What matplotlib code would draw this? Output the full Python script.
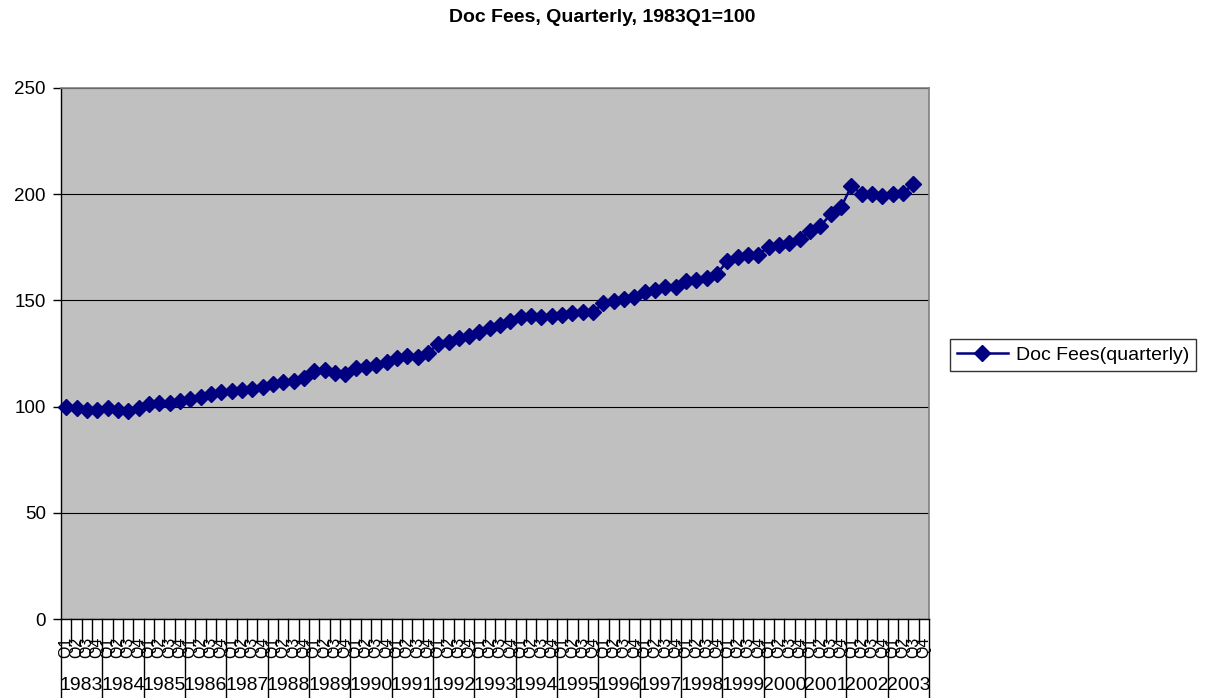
import matplotlib
matplotlib.use("Agg")
import matplotlib.pyplot as plt
from matplotlib.lines import Line2D

plt.rcParams['font.family'] = ['Liberation Sans', 'DejaVu Sans']

title = "Doc Fees, Quarterly, 1983Q1=100"
series_name = "Doc Fees(quarterly)"
years = [str(y) for y in range(1983, 2004)]
quarters = ["Q1", "Q2", "Q3", "Q4"]

values = [
    100.0, 99.2, 98.2, 98.6,      # 1983
    99.5, 98.5, 98.1, 99.5,       # 1984
    101.0, 101.5, 101.8, 102.7,   # 1985
    103.8, 104.6, 105.7, 106.8,   # 1986
    107.5, 107.9, 108.4, 109.2,   # 1987
    110.8, 111.8, 112.0, 113.7,   # 1988
    116.6, 117.4, 115.8, 115.5,   # 1989
    118.0, 118.8, 119.4, 121.0,   # 1990
    122.8, 124.0, 123.4, 125.1,   # 1991
    129.6, 130.5, 132.2, 133.2,   # 1992
    135.2, 137.0, 138.6, 140.1,   # 1993
    142.0, 142.8, 142.4, 142.8,   # 1994
    143.3, 144.0, 144.7, 144.4,   # 1995
    148.8, 149.8, 150.8, 151.6,   # 1996
    154.0, 155.0, 156.4, 156.2,   # 1997
    159.3, 159.8, 160.5, 162.6,   # 1998
    168.6, 170.5, 171.6, 171.6,   # 1999
    175.3, 176.1, 177.2, 178.9,   # 2000
    182.7, 185.0, 190.7, 194.0,   # 2001
    203.9, 200.1, 200.1, 199.2,   # 2002
    200.1, 200.6, 204.8,          # 2003 (Q4 missing)
]

yticks = [0, 50, 100, 150, 200, 250]

W, H = 1205, 698
fig = plt.figure(figsize=(W / 100, H / 100), dpi=100)
L, R, T, B = 61, 929, 88, 619
ax = fig.add_axes([L / W, 1 - B / H, (R - L) / W, (B - T) / H])
ax.set_facecolor('#C0C0C0')

ncat = len(years) * len(quarters)
xs = list(range(len(values)))
line, = ax.plot(xs, values, color='#000080', lw=1.8, marker='D', markersize=8,
                markerfacecolor='#000080', markeredgecolor='#000080', zorder=3,
                label=series_name, clip_on=False)

ax.set_xlim(-0.5, ncat - 0.5)
ax.set_ylim(0, 250)
ax.set_yticks(yticks)
ax.set_yticklabels([str(v) for v in yticks], fontsize=13.5)
ax.tick_params(axis='y', length=6, width=1, color='black', pad=5, direction='out')
ax.yaxis.grid(True, color='black', lw=0.8)
ax.set_axisbelow(True)

for s in ['top', 'right']:
    ax.spines[s].set_color('#808080')
    ax.spines[s].set_linewidth(1.2)
ax.spines['left'].set_color('black')
ax.spines['bottom'].set_color('black')
ax.spines['left'].set_linewidth(1.0)
ax.spines['bottom'].set_linewidth(1.0)

ax.set_xticks([])
tr = ax.get_xaxis_transform()
ph = B - T
def ay(px):
    return (B - px) / ph

# boundary ticks
for k in range(ncat + 1):
    xb = k - 0.5
    if k % 4 == 0:
        y1 = ay(H)
    else:
        y1 = ay(642)
    ax.add_line(Line2D([xb, xb], [0, y1], transform=tr, color='black', lw=1.0, clip_on=False))

# quarter labels
for yi, yr in enumerate(years):
    for qi, q in enumerate(quarters):
        c = yi * 4 + qi
        ax.text(c, ay(647), q, transform=tr, rotation=90, ha='center', va='center',
                fontsize=11.5, clip_on=False)
    ax.text(yi * 4 + 1.5, ay(686), yr, transform=tr, ha='center', va='center',
            fontsize=14, clip_on=False)

fig.text(0.5, 1 - 18 / H, title, ha='center', va='center', fontsize=14, fontweight='bold')

leg = fig.legend(handles=[line], loc='center', bbox_to_anchor=(1073 / W, 1 - 355 / H),
                 fontsize=14, frameon=True, fancybox=False, handlelength=2.6,
                 borderpad=0.35, handletextpad=0.4, borderaxespad=0)
leg.get_frame().set_edgecolor('black')
leg.get_frame().set_linewidth(1.0)
leg.get_frame().set_facecolor('white')

fig.savefig('out.png', dpi=100)
